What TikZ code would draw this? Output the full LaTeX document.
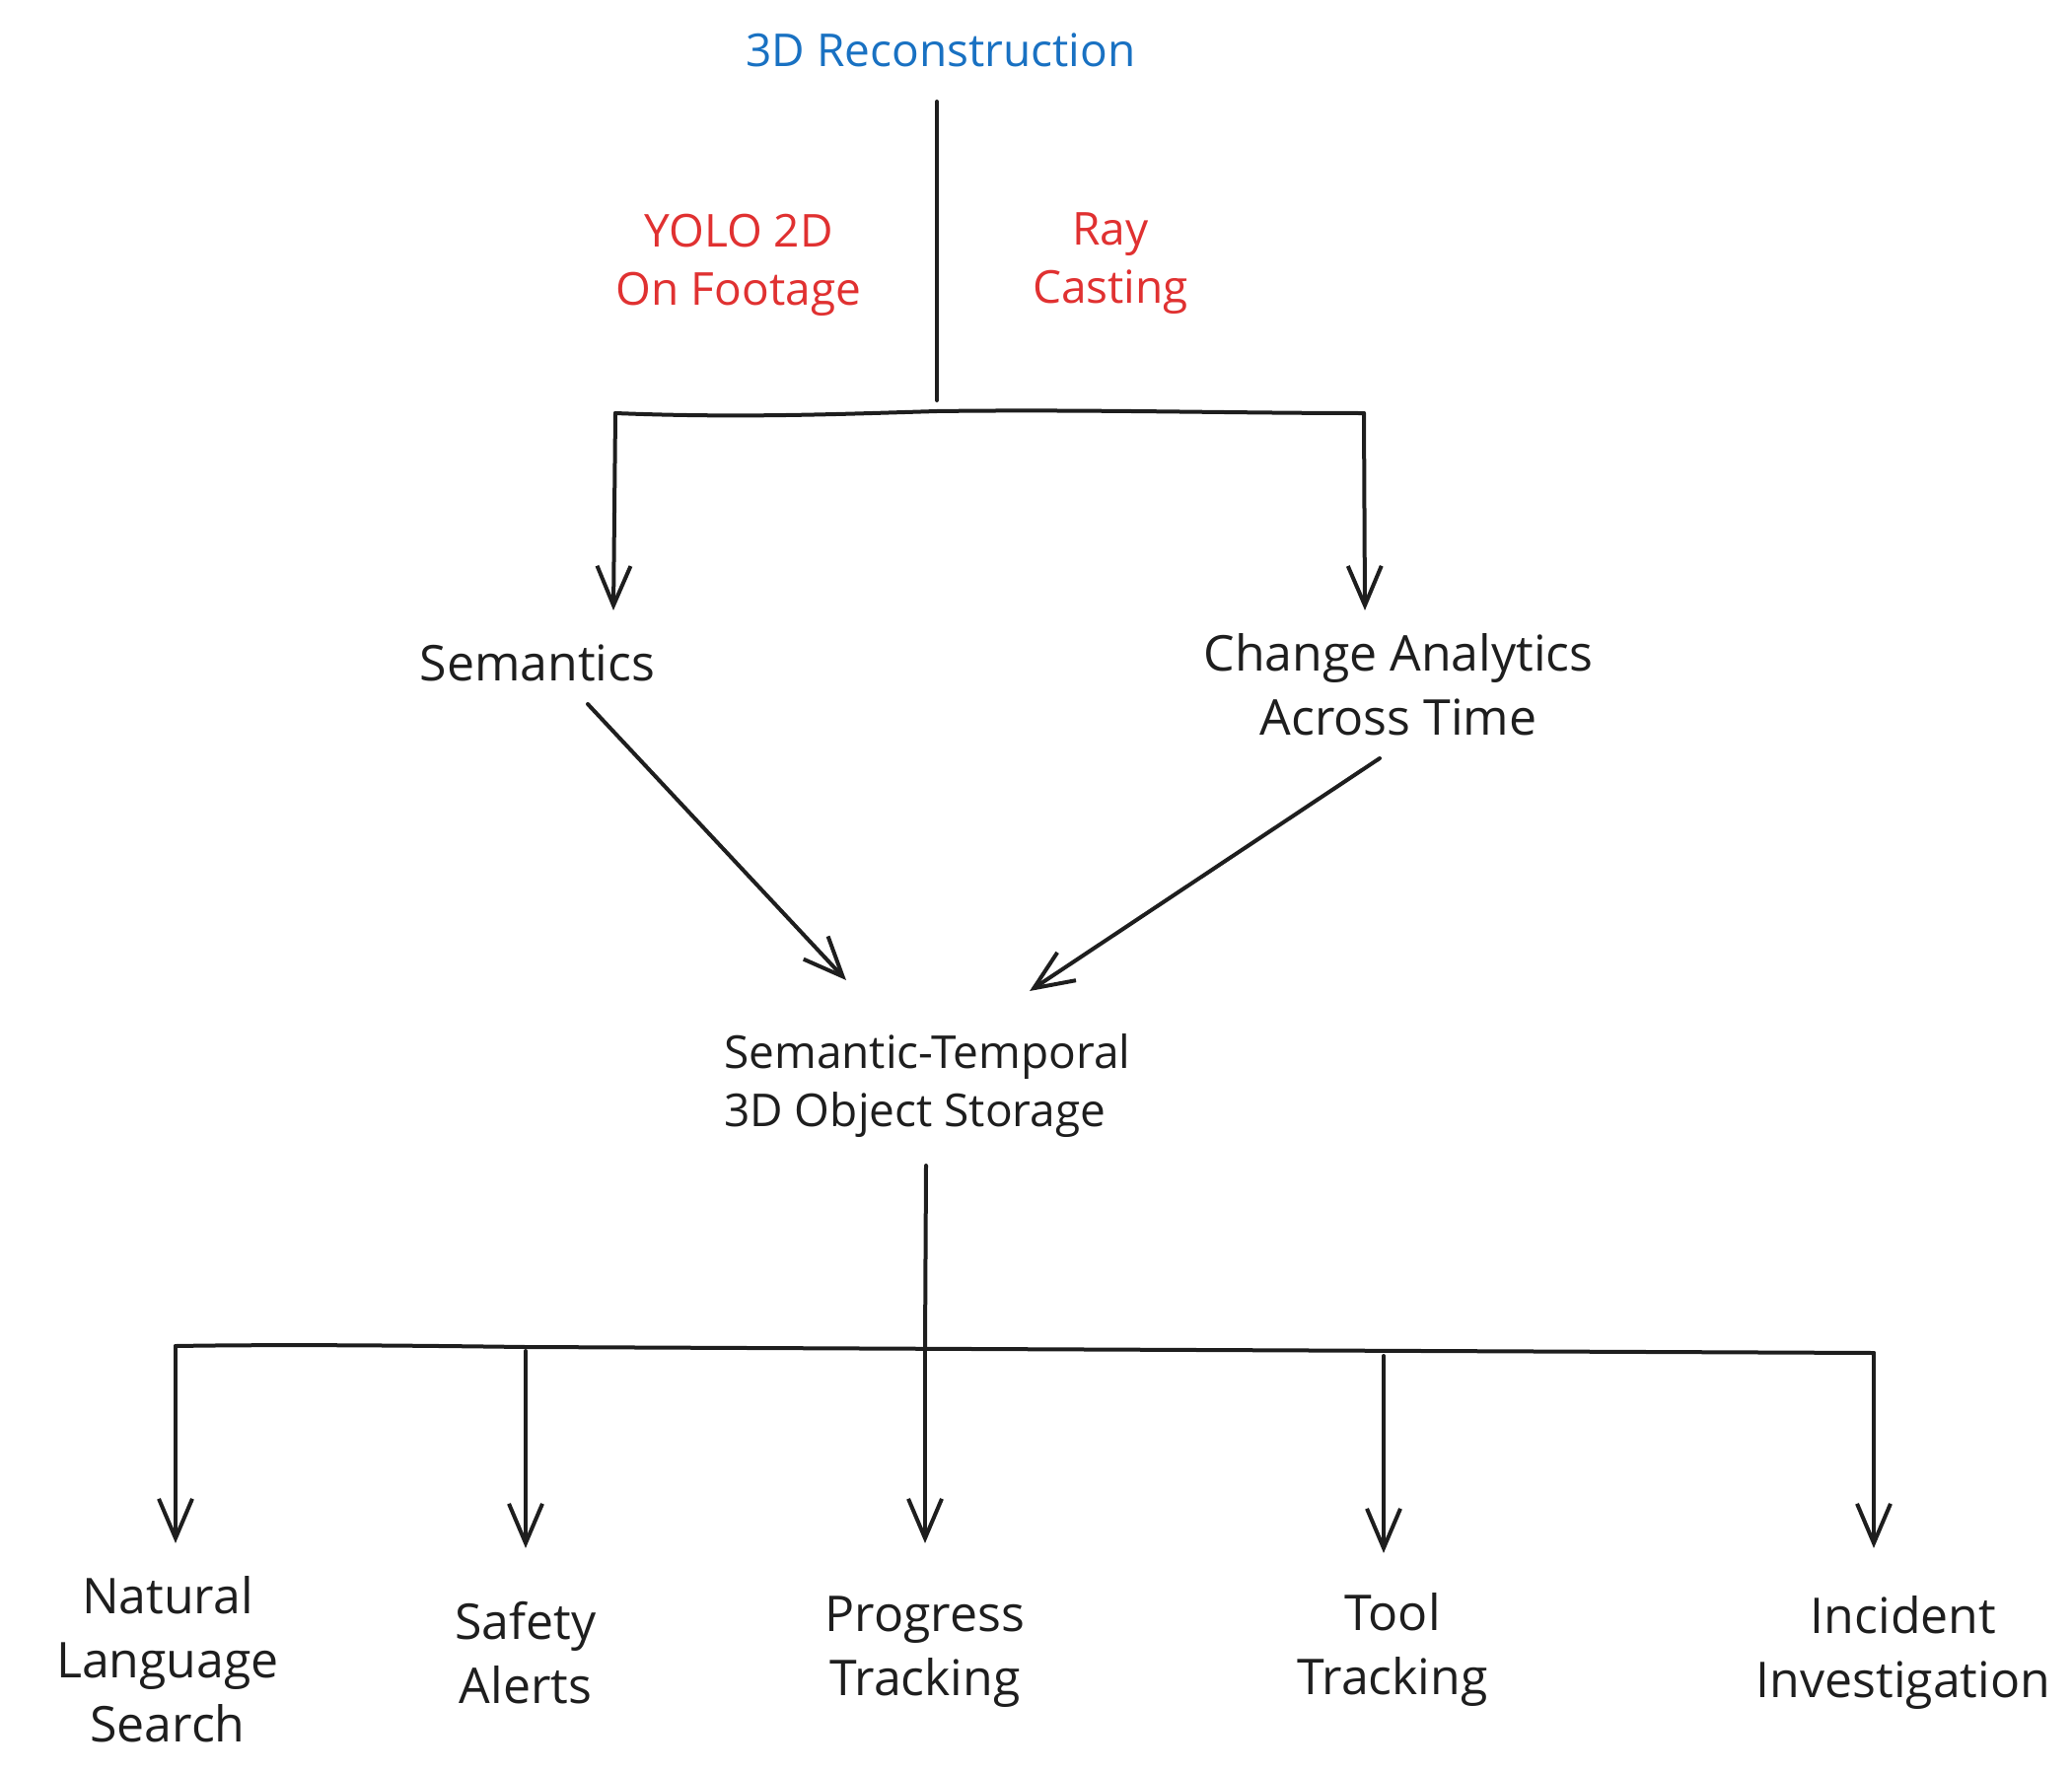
\documentclass[tikz,border=0pt]{standalone}
\usepackage{fontspec}
\setmainfont{Open Sans}
\usetikzlibrary{arrows.meta}
\definecolor{ink}{HTML}{1E1E1E}
\definecolor{exblue}{HTML}{1971C2}
\definecolor{exred}{HTML}{E03131}
\tikzset{
  big/.style={text=ink, align=center, inner sep=0pt, font=\fontsize{50}{65}\selectfont},
  small/.style={align=center, inner sep=0pt, font=\fontsize{46}{59}\selectfont},
  wire/.style={draw=ink, line width=4pt, line cap=round, line join=round},
  arr/.style={wire, -{Straight Barb[length=40pt, width=34pt, line width=4pt]}},
}
\begin{document}
\begin{tikzpicture}[x=1pt, y=-1pt]
\useasboundingbox (0,0) rectangle (2101,1798);
% nodes
\node[small, text=exblue] (recon) at (954,51) {3D Reconstruction};
\node[small, text=exred] (yolo) at (749,269) {YOLO 2D\\On Footage};
\node[small, text=exred] (ray) at (1126,267) {Ray\\Casting};
\node[big] (sem) at (545,672) {Semantics};
\node[big] (change) at (1418,694) {Change Analytics\\Across Time};
\node[small, text=ink, align=left, anchor=west] (store) at (734,1101) {Semantic-Temporal\\3D Object Storage};
\node[big] (nls) at (170,1683) {Natural\\Language\\Search};
\node[big] (safe) at (533,1676) {Safety\\Alerts};
\node[big] (prog) at (938,1675) {Progress\\Tracking};
\node[big] (tool) at (1412,1673) {Tool\\Tracking};
\node[big] (inc) at (1930,1676) {Incident\\Investigation};
% junction coordinates
\coordinate (topstart) at (950,103);
\coordinate (topend) at (950,406);
\coordinate (tl) at (624,419);
\coordinate (tr) at (1383,419);
\coordinate (semtip) at (622,619);
\coordinate (chtip) at (1384,619);
\coordinate (midstart) at (939,1182);
\coordinate (bj) at (938,1367);
\coordinate (bl) at (178,1365);
\coordinate (br) at (1900,1372);
% top part
\draw[wire] (topstart) -- (topend);
\draw[wire] (tl) .. controls (750,424) and (850,420) .. (950,417) .. controls (1100,415) and (1250,419) .. (tr);
\draw[arr] (tl) -- (semtip);
\draw[arr] (tr) -- (chtip);
% middle diagonals
\draw[arr] (596,714) -- (858,994);
\draw[arr] (1399,769) -- (1044,1005);
% bottom part
\draw[wire] (midstart) -- (bj);
\draw[wire] (bl) .. controls (300,1363) and (450,1365) .. (533,1366) -- (br);
\draw[arr] (bj) -- (938,1565);
\draw[arr] (bl) -- (178,1565);
\draw[arr] (533,1370) -- (533,1570);
\draw[arr] (1403,1375) -- (1403,1575);
\draw[arr] (br) -- (1900,1570);
\end{tikzpicture}
\end{document}
